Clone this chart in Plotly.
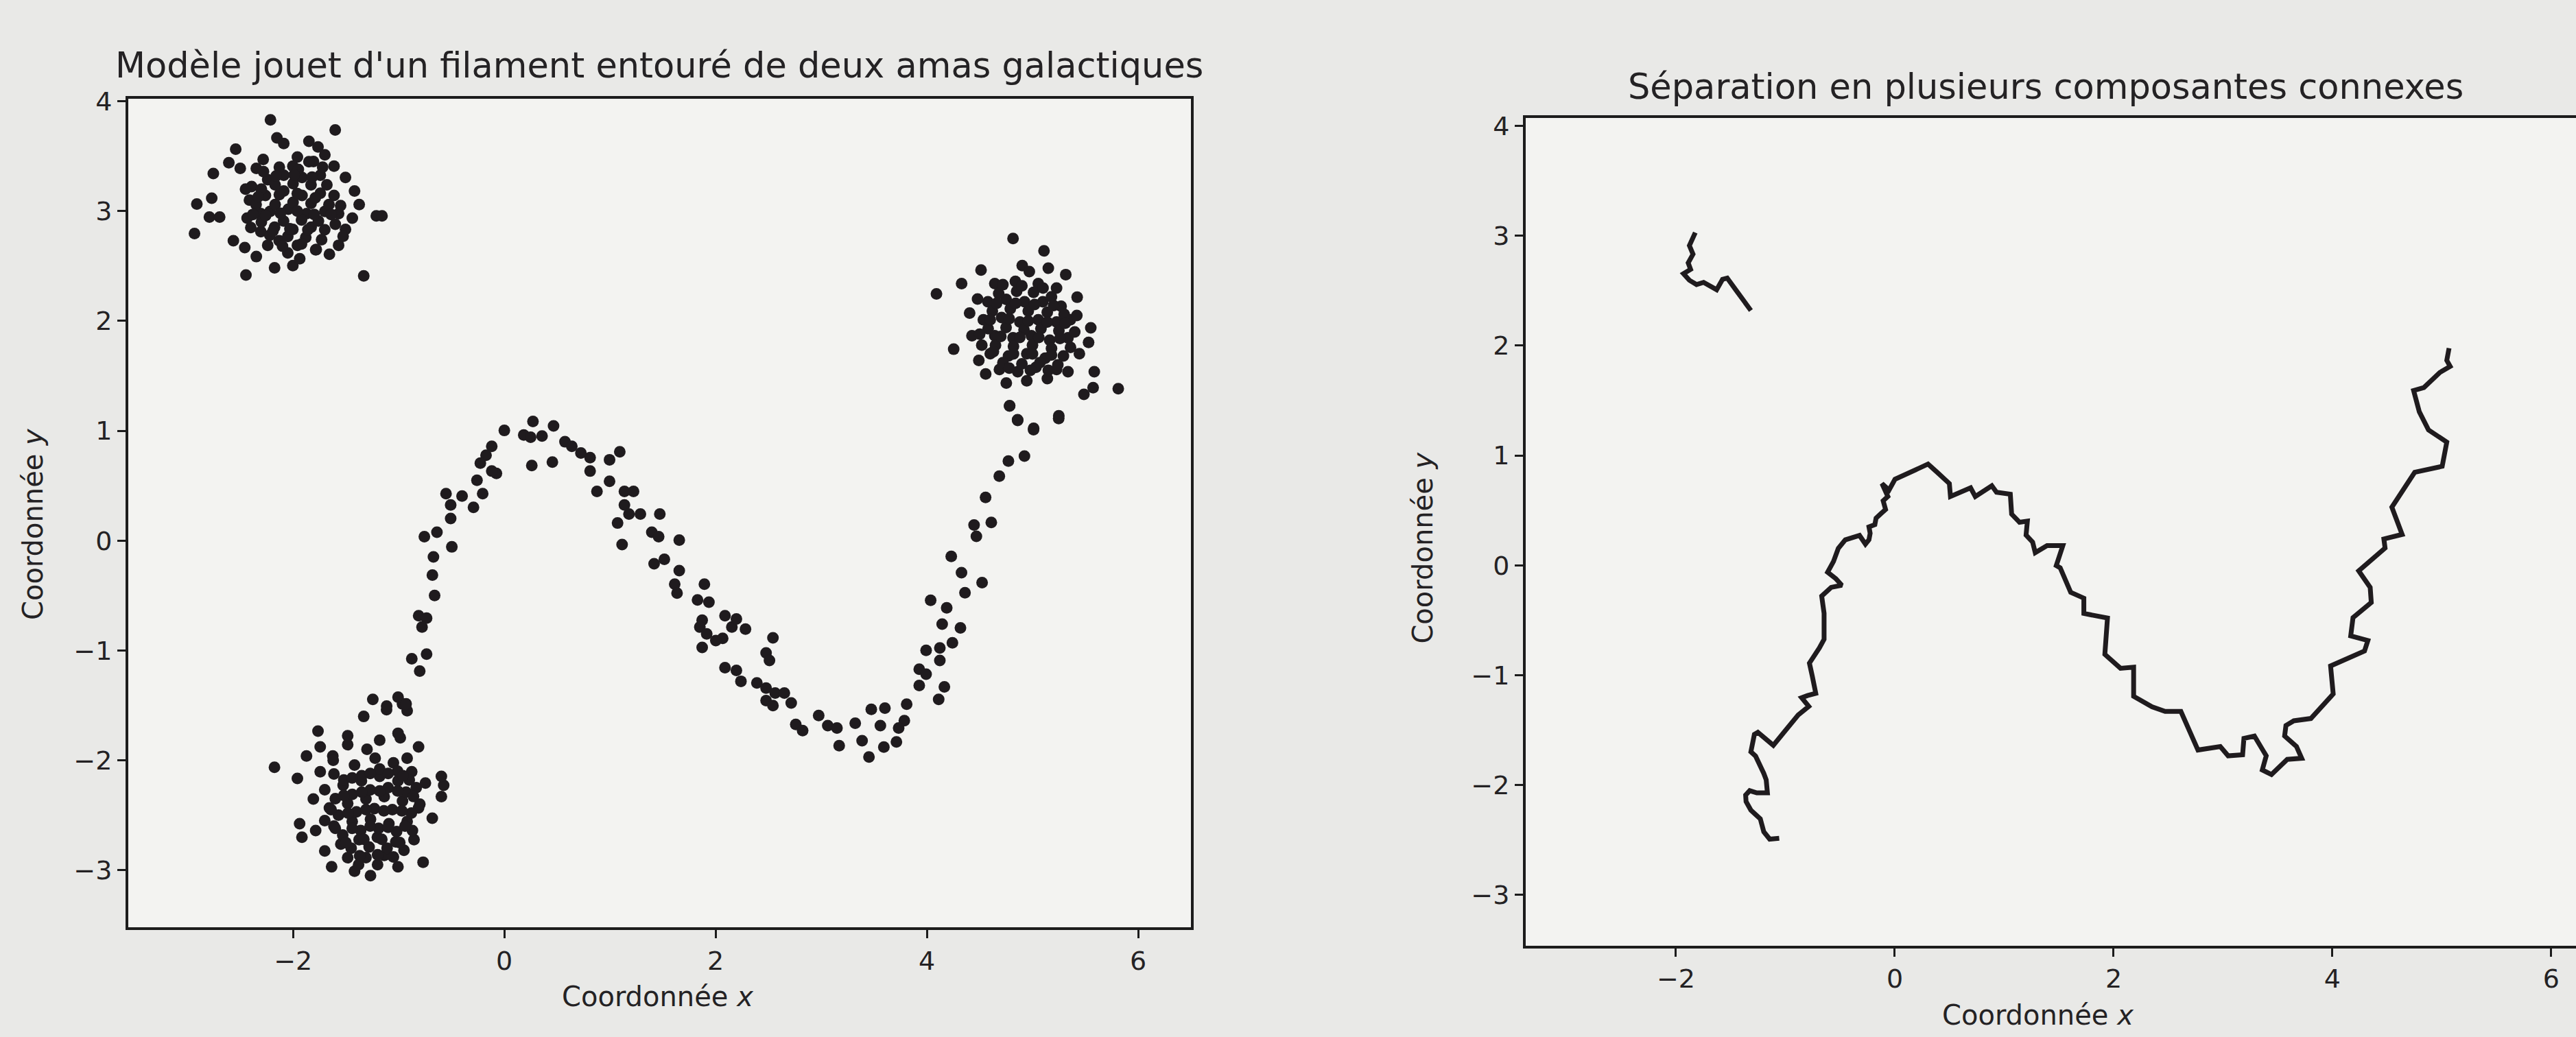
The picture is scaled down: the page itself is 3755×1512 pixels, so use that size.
import plotly.graph_objects as go

# ---------------- data: left panel (scatter) ----------------
cluster_tl_x = [-2.214, -1.601, -2.755, -2.911, -2.770, -2.792, -2.695, -2.933, -1.212, -1.158,
                -2.446, -1.331, -2.175, -2.002, -2.543, -2.608, -2.500, -2.153, -2.088, -1.850,
                -1.764, -1.699, -1.612, -1.504, -1.418, -1.374, -1.439, -1.504, -1.569, -1.656,
                -1.786, -2.348, -2.565, -2.457, -2.413, -2.435, -2.348, -2.283, -1.959, -2.305,
                -2.240, -2.088, -1.915, -1.742, -2.262, -2.088, -1.915, -1.742, -1.612, -2.218,
                -2.045, -1.872, -1.699, -2.175, -2.002, -1.829, -2.132, -1.959, -2.305, -1.569,
                -2.002, -2.392, -1.937, -2.240, -1.526, -1.807,
                -2.17, -2.00, -1.83, -2.35, -2.17, -2.00, -1.83, -1.66, -2.30, -2.09,
                -1.92, -1.76, -2.05, -1.88, -2.22, -2.13, -1.95, -1.68, -2.40, -1.60,
                -2.05, -1.73, -2.30, -1.85,
                -2.16, -1.99, -1.82, -2.33, -2.13, -1.96, -1.79, -2.26, -2.12, -1.96,
                -1.80, -1.64, -2.19, -2.03, -1.86, -1.70, -2.10, -1.92, -1.78, -2.38,
                -2.45, -2.28, -1.72, -1.55]
cluster_tl_y = [3.831, 3.739, 3.343, 3.064, 3.117, 2.946, 2.946, 2.796, 2.957, 2.957,
                2.418, 2.411, 2.483, 2.504, 3.564, 3.440, 3.389, 3.667, 3.615, 3.636,
                3.584, 3.512, 3.409, 3.306, 3.183, 3.060, 2.936, 2.833, 2.689, 2.607,
                2.648, 2.586, 2.730, 2.668, 3.101, 2.936, 3.389, 3.471, 3.492, 2.813,
                3.286, 3.327, 3.306, 3.327, 3.142, 3.183, 3.142, 3.163, 3.142, 2.998,
                3.018, 2.977, 2.998, 2.854, 2.833, 2.854, 2.730, 2.689, 2.977, 2.977,
                3.409, 3.224, 2.566, 2.689, 2.771, 3.451,
                3.24, 3.25, 3.24, 3.06, 3.06, 3.08, 3.07, 3.06, 2.90, 2.91,
                2.92, 2.91, 2.77, 2.76, 2.78, 3.40, 3.38, 3.24, 2.85, 2.88,
                2.62, 2.74, 3.20, 3.45,
                3.32, 3.33, 3.31, 3.13, 3.15, 3.16, 3.12, 2.96, 2.98, 3.00,
                2.97, 2.97, 2.82, 2.84, 2.83, 2.83, 2.68, 2.70, 2.65, 2.97,
                3.20, 3.36, 3.40, 3.05]

cluster_tr_x = [4.816, 5.109, 4.091, 4.329, 4.513, 5.812, 5.585, 5.487, 5.574, 4.784,
                4.860, 5.011, 5.249, 4.254, 5.552, 5.531, 5.358, 5.423, 5.315, 4.903,
                4.405, 4.492, 4.557, 4.752, 4.946, 5.141, 5.336, 5.444, 4.427,
                4.643, 4.838, 5.055, 5.228, 4.578, 4.751, 4.925, 5.098, 5.271, 4.535,
                4.708, 4.881, 5.055, 5.228, 4.643, 4.816, 4.990, 5.163, 5.336, 4.600,
                4.773, 4.946, 5.120, 5.293, 4.687, 4.860, 5.033, 5.228,
                4.68, 4.85, 5.01, 5.18, 4.62, 4.79, 4.96, 5.14, 5.30, 4.58,
                4.75, 4.92, 5.08, 5.25, 4.65, 4.82, 5.00, 5.18, 5.36, 4.72,
                4.90, 5.07, 5.24, 4.50, 4.48, 4.97, 5.15, 5.40,
                4.72, 4.90, 5.10, 4.66, 4.84, 5.02, 5.20, 4.60, 4.78, 4.96,
                5.14, 5.31, 4.70, 4.88, 5.06, 5.26, 4.63, 4.82, 5.00, 5.18,
                4.78, 4.98, 5.15, 4.52, 5.42]
cluster_tr_y = [2.751, 2.638, 2.247, 2.340, 2.463, 1.383, 1.537, 1.331, 1.393, 1.229,
                1.095, 1.023, 1.136, 1.743, 1.938, 1.805, 2.010, 2.216, 2.422, 2.504,
                2.072, 1.640, 1.517, 1.434, 1.455, 1.475, 1.537, 1.702, 1.866,
                2.340, 2.360, 2.340, 2.299, 2.175, 2.196, 2.175, 2.175, 2.134, 2.010,
                2.031, 1.990, 2.010, 1.990, 1.866, 1.846, 1.866, 1.825, 1.846, 1.702,
                1.681, 1.702, 1.661, 1.681, 1.558, 1.537, 1.578, 1.558,
                2.25, 2.27, 2.26, 2.22, 2.09, 2.11, 2.09, 2.08, 2.06, 1.93,
                1.94, 1.92, 1.93, 1.91, 1.78, 1.77, 1.78, 1.75, 1.76, 1.62,
                1.61, 1.62, 1.60, 1.88, 2.20, 2.45, 2.48, 1.90,
                2.33, 2.32, 2.30, 2.16, 2.16, 2.15, 2.14, 2.01, 2.02, 2.00,
                1.99, 1.98, 1.86, 1.85, 1.85, 1.84, 1.72, 1.70, 1.70, 1.69,
                1.57, 1.55, 1.55, 1.78, 2.05]

cluster_bl_x = [-1.245, -1.115, -0.964, -0.920, -1.331, -1.764, -1.483, -1.483, -1.743, -1.873,
                -1.624, -2.176, -1.959, -1.808, -1.938, -1.916, -1.700, -1.635, -1.418, -1.267,
                -1.007, -0.769, -0.682, -0.747, -0.574, -0.596, -0.596, -0.812, -0.985, -1.180,
                -0.920, -1.613, -1.418, -1.223, -1.050, -0.877, -1.700, -1.526, -1.353, -1.180,
                -1.007, -0.834, -1.656, -1.483, -1.310, -1.137, -0.964, -0.812, -1.613, -1.440,
                -1.267, -1.093, -0.920, -1.548, -1.375, -1.202, -1.028, -0.855, -1.310, -1.137,
                -1.483, -1.786, -1.743,
                -1.52, -1.35, -1.18, -1.01, -0.90, -1.60, -1.44, -1.27, -1.10, -0.93,
                -1.57, -1.40, -1.23, -1.06, -0.88, -1.53, -1.36, -1.19, -1.02, -0.87,
                -1.45, -1.28, -1.11, -0.95, -1.70, -1.62, -1.30, -0.80, -1.38, -1.20,
                -1.44, -1.27, -1.10, -0.96, -1.52, -1.35, -1.18, -1.01, -0.86, -1.64,
                -1.48, -1.31, -1.14, -0.97, -1.60, -1.44, -1.27, -1.10, -0.94, -1.50,
                -1.33, -1.16, -0.99, -1.37, -1.20, -1.05]
cluster_bl_y = [-1.446, -1.539, -1.487, -1.549, -1.601, -1.734, -1.776, -1.858, -1.878, -1.961,
                -1.961, -2.064, -2.166, -2.352, -2.578, -2.701, -2.825, -2.969, -3.010, -3.051,
                -2.969, -2.928, -2.527, -2.207, -2.228, -2.331, -2.146, -1.878, -1.796, -1.817,
                -1.981, -2.125, -2.043, -1.981, -2.023, -2.105, -2.269, -2.228, -2.187, -2.146,
                -2.187, -2.249, -2.434, -2.393, -2.352, -2.331, -2.372, -2.434, -2.599, -2.557,
                -2.537, -2.578, -2.557, -2.763, -2.722, -2.701, -2.743, -2.722, -2.887, -2.866,
                -2.887, -2.640, -2.105,
                -2.18, -2.14, -2.08, -2.10, -2.18, -2.35, -2.31, -2.27, -2.25, -2.29,
                -2.50, -2.47, -2.44, -2.45, -2.48, -2.68, -2.64, -2.62, -2.65, -2.64,
                -2.80, -2.79, -2.80, -2.82, -2.55, -2.00, -1.90, -2.40, -2.95, -2.95,
                -2.16, -2.12, -2.12, -2.14, -2.32, -2.29, -2.28, -2.28, -2.33, -2.45,
                -2.48, -2.45, -2.46, -2.46, -2.62, -2.62, -2.60, -2.61, -2.60, -2.75,
                -2.72, -2.72, -2.75, -2.87, -2.86, -2.88]

filament_x = [0.271, 0.184, 0.249, 0.357, 0.466, 0.000, -0.119, -0.173, -0.227, -0.075,
              -0.119, -0.259, -0.205, -0.400, -0.552, -0.508, -0.292, -0.508, -0.638, -0.757,
              -0.497, -0.671, -0.681, -0.660, -0.811, -0.736, -0.779, -0.876, -0.736, -0.801,
              -1.006, -0.930, -1.114, -1.006, 0.260, 0.574, 0.639, 0.725, 0.812, 0.455,
              0.812, 0.996, 1.093, 0.996, 0.877, 1.137, 1.223, 1.137, 1.180, 1.288,
              1.072, 1.115, 1.472, 1.396, 1.461, 1.656, 1.418, 1.515, 1.656, 1.613,
              1.635, 1.894, 1.829, 1.937, 1.873, 1.851, 1.916, 2.089, 2.154, 2.067,
              2.002, 1.873, 2.089, 2.240,
              4.783, 4.859, 5.010, 5.248, 4.924, 4.772, 4.686, 4.556, 4.610, 4.447,
              4.469, 4.231, 4.328, 4.523, 4.361, 4.036, 4.188, 4.145, 4.318, 4.242,
              3.993, 4.123, 4.123, 3.928, 3.993, 3.928, 4.166, 4.112, 3.809, 3.787,
              3.733, 3.603, 3.474, 3.560, 3.712, 3.593, 3.387, 3.452, 3.322, 2.976,
              3.062, 3.149, 3.170, 2.759, 2.824, 2.391, 2.478, 2.564, 2.651, 2.716,
              2.478, 2.543, 2.197, 2.478, 2.510, 2.543, 2.197, 2.283]
filament_y = [1.085, 0.962, 0.941, 0.952, 1.044, 1.003, 0.859, 0.777, 0.705, 0.612,
              0.633, 0.550, 0.427, 0.406, 0.427, 0.324, 0.303, 0.201, 0.077, 0.036,
              -0.057, -0.149, -0.314, -0.499, -0.684, -0.705, -0.787, -1.075, -1.034, -1.188,
              -1.425, -1.487, -1.507, -1.754, 0.684, 0.900, 0.859, 0.797, 0.756, 0.715,
              0.633, 0.736, 0.808, 0.540, 0.448, 0.448, 0.448, 0.324, 0.242, 0.242,
              0.160, -0.036, 0.242, 0.077, 0.036, 0.005, -0.211, -0.170, -0.273, -0.396,
              -0.478, -0.396, -0.540, -0.561, -0.725, -0.787, -0.849, -0.684, -0.787, -0.890,
              -0.910, -0.972, -1.157, -1.281,
              1.226, 1.101, 1.010, 1.112, 0.770, 0.724, 0.587, 0.393, 0.165, 0.142,
              0.039, -0.143, -0.292, -0.383, -0.474, -0.543, -0.612, -0.760, -0.794, -0.931,
              -0.999, -0.977, -1.091, -1.171, -1.216, -1.319, -1.331, -1.445, -1.490, -1.639,
              -1.707, -1.525, -1.536, -1.685, -1.833, -1.879, -1.822, -1.970, -1.662, -1.593,
              -1.685, -1.707, -1.867, -1.673, -1.730, -1.296, -1.342, -1.388, -1.388, -1.479,
              -1.456, -1.502, -1.182, -1.022, -1.091, -0.885, -0.714, -0.806]

points_x = cluster_tl_x + cluster_tr_x + cluster_bl_x + filament_x
points_y = cluster_tl_y + cluster_tr_y + cluster_bl_y + filament_y

# ---------------- data: right panel (connected components) ----------------
component_a_x = [-1.823, -1.877, -1.844, -1.888, -1.866, -1.931, -1.877, -1.812, -1.747, -1.682,
                 -1.628, -1.574, -1.531, -1.445, -1.315]
component_a_y = [3.028, 2.909, 2.831, 2.752, 2.693, 2.654, 2.594, 2.555, 2.575, 2.535,
                 2.508, 2.602, 2.614, 2.496, 2.319]

component_b_x = [-1.056, -1.143, -1.197, -1.229, -1.272, -1.315, -1.359, -1.363, -1.326, -1.261,
                 -1.164, -1.175, -1.197, -1.218, -1.272, -1.315, -1.283, -1.251, -1.186, -1.110,
                 -1.013, -0.883, -0.786, -0.851, -0.797, -0.722, -0.754, -0.780, -0.689, -0.646,
                 -0.646, -0.668, -0.581, -0.484, -0.538, -0.614, -0.560, -0.516, -0.452, -0.376,
                 -0.322, -0.268, -0.236, -0.225, -0.236, -0.182, -0.171, -0.128, -0.084, -0.106,
                 -0.063, -0.117, -0.052, 0.002, 0.088, 0.196, 0.304, 0.391, 0.434, 0.499,
                 0.509, 0.607, 0.693, 0.736, 0.822, 0.887, 0.930, 1.056, 1.068, 1.140,
                 1.212, 1.200, 1.260, 1.284, 1.392, 1.536, 1.476, 1.512, 1.608, 1.728,
                 1.728, 1.944, 1.920, 2.063, 2.183, 2.183, 2.351, 2.471, 2.615, 2.771,
                 2.975, 3.047, 3.179, 3.191, 3.287, 3.395, 3.359, 3.443, 3.587, 3.719,
                 3.671, 3.563, 3.575, 3.647, 3.803, 4.007, 3.983, 4.104, 4.293, 4.324,
                 4.167, 4.188, 4.355, 4.345, 4.240, 4.481, 4.470, 4.637, 4.543, 4.752,
                 5.003, 5.045, 4.878, 4.794, 4.742, 4.836, 4.982, 5.076, 5.045, 5.066]
component_b_y = [-2.484, -2.492, -2.425, -2.307, -2.268, -2.228, -2.150, -2.091, -2.051, -2.071,
                 -2.071, -1.953, -1.894, -1.854, -1.736, -1.697, -1.539, -1.520, -1.579, -1.638,
                 -1.520, -1.362, -1.284, -1.205, -1.185, -1.165, -1.008, -0.890, -0.752, -0.673,
                 -0.437, -0.280, -0.201, -0.181, -0.122, -0.063, 0.035, 0.154, 0.232, 0.252,
                 0.272, 0.193, 0.232, 0.291, 0.350, 0.370, 0.429, 0.469, 0.508, 0.587,
                 0.626, 0.744, 0.685, 0.783, 0.823, 0.862, 0.921, 0.843, 0.803, 0.744,
                 0.626, 0.665, 0.705, 0.626, 0.685, 0.724, 0.665, 0.647, 0.466, 0.392,
                 0.402, 0.275, 0.211, 0.115, 0.179, 0.179, -0.002, -0.023, -0.246, -0.299,
                 -0.438, -0.480, -0.810, -0.937, -0.927, -1.192, -1.288, -1.330, -1.330, -1.681,
                 -1.649, -1.734, -1.724, -1.575, -1.554, -1.734, -1.862, -1.904, -1.766, -1.756,
                 -1.649, -1.554, -1.458, -1.415, -1.394, -1.171, -0.916, -0.863, -0.780, -0.684,
                 -0.642, -0.477, -0.339, -0.201, -0.050, 0.157, 0.240, 0.281, 0.529, 0.846,
                 0.901, 1.121, 1.232, 1.397, 1.590, 1.617, 1.755, 1.810, 1.865, 1.976]

x_ticks = [-2, 0, 2, 4, 6]
y_ticks = [-3, -2, -1, 0, 1, 2, 3, 4]

title_left = "Modèle jouet d'un filament entouré de deux amas galactiques"
title_right = "Séparation en plusieurs composantes connexes"
label_x = "Coordonnée <i>x</i>"
label_y = "Coordonnée <i>y</i>"

# ---------------- figure ----------------
W, H = 3755, 1512
FONT = "DejaVu Sans"
TXT = "#242224"
INK = "#1f1b1e"

fig = go.Figure()
fig.add_trace(go.Scatter(x=points_x, y=points_y, mode="markers",
                         marker=dict(size=17, color=INK, line=dict(width=0)),
                         xaxis="x", yaxis="y", showlegend=False, hoverinfo="skip"))
fig.add_trace(go.Scatter(x=component_a_x, y=component_a_y, mode="lines",
                         line=dict(color=INK, width=7),
                         xaxis="x2", yaxis="y2", showlegend=False, hoverinfo="skip"))
fig.add_trace(go.Scatter(x=component_b_x, y=component_b_y, mode="lines",
                         line=dict(color=INK, width=7),
                         xaxis="x2", yaxis="y2", showlegend=False, hoverinfo="skip"))

axis_common = dict(showgrid=False, zeroline=False, showline=True, linecolor="#1c1c1c",
                   linewidth=4, ticks="outside", ticklen=12, tickwidth=3,
                   tickcolor="#1c1c1c", tickfont=dict(family=FONT, size=38, color=TXT))

fig.update_layout(
    width=W, height=H,
    margin=dict(l=0, r=0, t=0, b=0),
    paper_bgcolor="#e9e9e7",
    plot_bgcolor="#f3f3f1",
    xaxis=dict(domain=[187 / W, 1736 / W], range=[-3.56, 6.5], tickvals=x_ticks,
               mirror=True, anchor="y", **axis_common),
    yaxis=dict(domain=[1 - 1350 / H, 1 - 128 / H], range=[-3.52, 4.02], tickvals=y_ticks,
               mirror=True, anchor="x", **axis_common),
    xaxis2=dict(domain=[2224 / W, 1.0], range=[-3.373, 6.226], tickvals=x_ticks,
                mirror=True, anchor="y2", **axis_common),
    yaxis2=dict(domain=[1 - 1377 / H, 1 - 156 / H], range=[-3.46, 4.07], tickvals=y_ticks,
                mirror=False, anchor="x2", **axis_common),
)

ann = [
    dict(text=title_left, x=961 / W, y=1 - 78 / H, size=51, angle=0),
    dict(text=title_right, x=2982 / W, y=1 - 110 / H, size=51, angle=0),
    dict(text=label_x, x=958 / W, y=1 - 1452 / H, size=40, angle=0),
    dict(text=label_x, x=2970 / W, y=1 - 1480 / H, size=40, angle=0),
    dict(text=label_y, x=48 / W, y=1 - 755 / H, size=40, angle=-90),
    dict(text=label_y, x=2074 / W, y=1 - 790 / H, size=40, angle=-90),
]
for a in ann:
    fig.add_annotation(text=a["text"], x=a["x"], y=a["y"], xref="paper", yref="paper",
                       xanchor="center", yanchor="middle", showarrow=False,
                       textangle=a["angle"], font=dict(family=FONT, size=a["size"], color=TXT))

fig.write_html("out.html", config={"displayModeBar": False},
               post_script="document.body.style.margin='0';document.body.style.overflow='hidden';")
